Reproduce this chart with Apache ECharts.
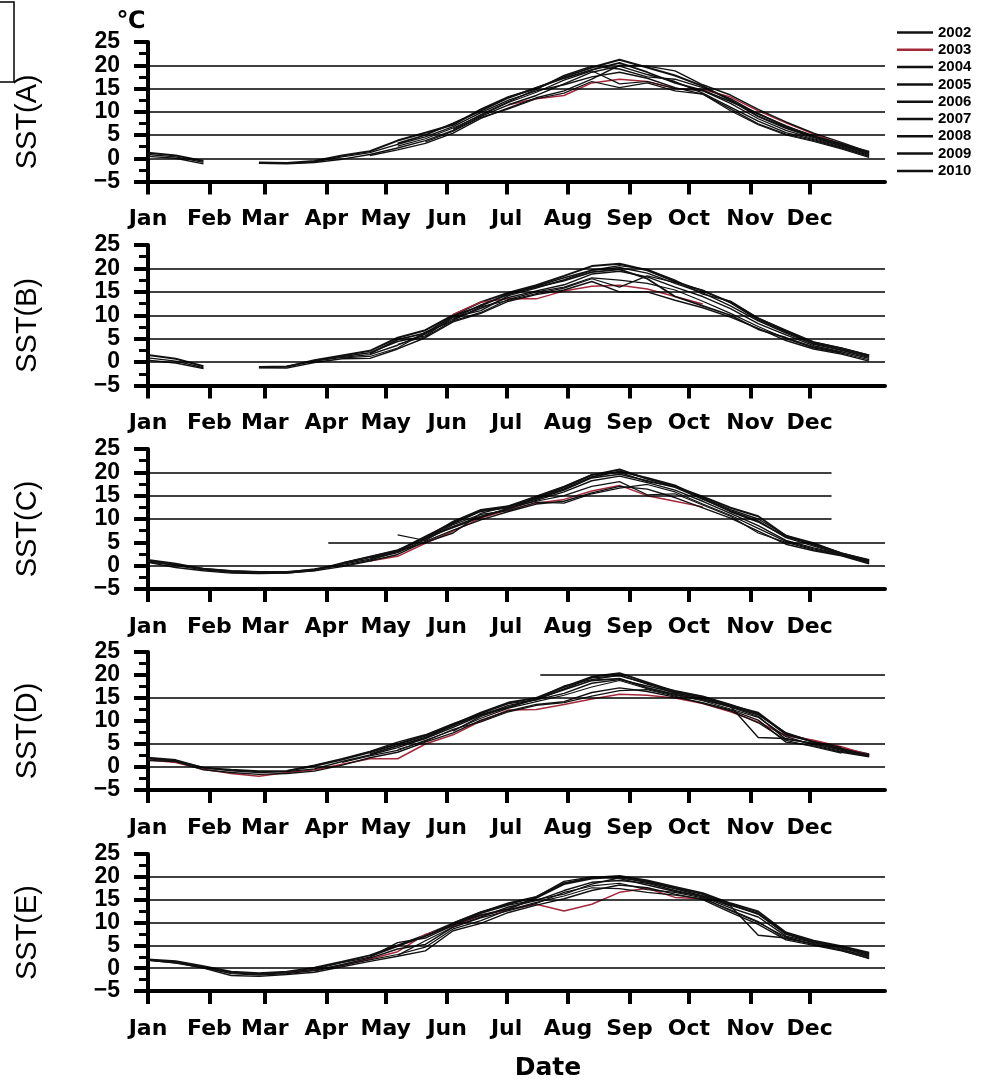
<!DOCTYPE html>
<html><head><meta charset="utf-8">
<script src="https://cdn.jsdelivr.net/npm/echarts@6/dist/echarts.min.js"></script>
<style>html,body{margin:0;padding:0;background:#fff}#c{width:985px;height:1084px}</style>
</head><body><div id="c"></div>
<script>
// ---------- data ----------
const years = ['2002','2003','2004','2005','2006','2007','2008','2009','2010'];
const days = [0,14,28,42,56,70,84,98,112,126,140,154,168,182,196,210,224,238,252,266,280,294,308,322,336,350,364];
const monthNames = ['Jan','Feb','Mar','Apr','May','Jun','Jul','Aug','Sep','Oct','Nov','Dec'];
const monthStarts = [0,31,59,90,120,151,181,212,243,273,304,334];
const panelNames = ['SST(A)','SST(B)','SST(C)','SST(D)','SST(E)'];
const xTitle = 'Date';
const unitLabel = '℃';

// gridlines per panel: [fromDay, toDay, level]
const gridA = [[0,372,0],[0,372,5],[0,372,10],[0,372,15],[0,372,20]];
const gridB = [[0,372,0],[0,372,5],[0,372,10],[0,372,15],[0,372,20]];
const gridC = [[0,372,0],[91,372,5],[0,345,10],[0,345,15],[0,345,20]];
const gridD = [[0,372,0],[0,372,5],[0,372,15],[198,372,20]];
const gridE = [[0,372,0],[0,372,5],[0,372,10],[0,372,15],[0,372,20]];

const A_2002 = [1.2,0.6,-0.6,null,-0.9,-1.0,-0.6,0.6,1.5,3.8,5.5,7.2,10.5,13.2,15.0,17.5,19.5,21.2,19.5,17.8,15.5,12.5,9.0,6.5,4.5,2.8,1.0];
const A_2003 = [null,null,null,null,null,null,null,null,null,null,null,null,null,11.5,12.8,13.5,16.2,17.0,16.5,15.0,14.8,13.2,10.2,7.6,5.2,3.0,null];
const A_2004 = [0.4,0.0,-1.2,null,-1.1,-1.2,-0.9,-0.2,0.8,2.2,3.8,6.0,9.0,11.5,13.5,16.0,18.5,19.8,18.0,16.5,14.0,11.0,8.0,5.5,4.0,2.4,0.6];
const A_2005 = [0.8,0.3,-0.9,null,-1.0,-1.1,-0.8,0.3,1.2,3.0,4.6,6.8,9.8,12.5,14.5,15.8,17.5,18.5,17.2,15.2,13.8,10.6,7.4,5.2,3.8,2.2,0.4];
const A_2006 = [null,null,null,null,null,null,null,null,0.6,1.8,3.2,5.4,8.6,10.8,13.0,14.5,17.0,20.0,19.8,18.8,15.8,13.6,10.5,7.8,5.4,3.4,1.3];
const A_2007 = [null,null,null,null,null,null,null,null,null,2.6,4.2,6.5,9.2,12.0,14.2,16.8,18.8,16.0,16.5,15.0,14.5,11.8,8.5,6.0,4.2,2.6,0.8];
const A_2008 = [null,null,null,null,null,null,null,null,null,3.2,5.0,7.5,10.2,13.0,15.2,17.2,19.0,20.5,18.5,16.2,14.6,12.2,9.6,6.8,4.8,3.0,1.4];
const A_2009 = [null,null,null,null,null,null,null,null,null,null,3.5,5.8,8.8,10.6,12.8,14.0,16.5,15.2,16.2,14.5,13.8,10.2,7.2,5.0,3.6,2.0,0.2];
const A_2010 = [null,null,null,null,null,null,null,null,null,null,null,6.2,9.4,12.2,14.8,17.8,19.8,19.2,17.5,17.0,15.2,12.8,9.5,7.0,4.6,3.2,1.2];

const B_2002 = [1.5,0.7,-0.9,null,-1.1,-1.0,0.4,1.4,2.4,5.2,6.8,10.0,12.8,14.8,16.4,18.4,20.5,21.0,19.6,17.2,15.2,12.8,9.3,6.6,4.2,2.9,1.4];
const B_2003 = [null,null,null,null,null,null,null,null,null,null,null,10.2,12.8,13.6,13.5,15.2,16.2,16.4,15.6,14.0,12.4,null,null,null,null,null,null];
const B_2004 = [0.4,-0.2,-1.4,null,-1.2,-1.3,-0.1,0.7,0.8,2.8,5.2,8.6,10.4,13.0,14.4,15.4,17.2,15.0,15.0,13.2,11.6,9.6,7.2,4.6,2.8,1.7,0.2];
const B_2005 = [0.9,0.2,-1.2,null,-1.0,-0.9,0.2,1.0,1.6,3.6,6.0,9.2,11.5,13.8,15.2,16.5,18.8,19.4,18.2,16.0,14.0,11.4,8.2,5.8,3.5,2.2,0.8];
const B_2006 = [null,null,null,null,null,null,0.3,1.2,2.0,4.4,5.6,9.6,11.0,14.2,15.8,17.6,19.6,20.2,19.0,16.8,14.8,12.0,8.8,6.2,3.8,2.5,1.0];
const B_2007 = [null,null,null,null,null,null,null,0.9,1.2,3.0,6.4,8.8,10.6,13.4,15.0,16.0,18.0,17.5,16.8,15.4,13.0,10.4,7.6,5.0,3.0,1.9,0.5];
const B_2008 = [null,null,null,null,null,null,null,null,1.8,4.8,6.2,9.8,12.0,14.6,16.0,17.4,19.2,19.8,17.8,14.0,12.0,10.0,7.0,5.2,3.2,2.0,null];
const B_2009 = [null,null,null,null,null,null,null,null,null,3.8,5.4,8.9,11.8,13.2,14.6,15.8,17.8,16.0,18.4,17.0,15.4,12.6,9.0,6.4,4.0,2.6,1.2];
const B_2010 = [null,null,null,null,null,null,null,null,null,null,null,9.3,12.2,14.4,16.2,18.0,19.6,20.6,19.8,17.5,14.5,13.0,9.4,6.8,4.3,3.0,1.5];

const C_2002 = [1.2,0.4,-0.7,-1.2,-1.4,-1.5,-1.0,0.5,1.8,3.2,6.2,9.2,11.8,12.6,14.6,16.8,19.4,20.6,18.6,17.0,14.8,12.4,10.6,6.4,4.8,2.6,1.2];
const C_2003 = [null,null,null,null,null,null,null,null,1.0,2.0,4.8,7.4,10.2,12.0,13.4,14.2,16.0,17.2,15.0,13.8,12.6,null,null,null,null,null,null];
const C_2004 = [0.7,-0.4,-1.1,-1.6,-1.7,-1.6,-1.1,-0.2,1.0,2.4,5.2,7.6,9.8,11.6,13.2,13.8,15.6,17.0,16.4,14.6,12.4,10.2,7.4,4.6,3.2,2.1,0.4];
const C_2005 = [1.0,0.0,-0.9,-1.4,-1.5,-1.4,-0.7,0.3,1.4,2.8,5.6,8.4,10.6,12.2,14.0,15.8,18.2,19.2,17.8,16.2,13.8,11.2,8.6,5.4,3.8,2.4,0.8];
const C_2006 = [0.8,0.2,-0.6,-1.1,-1.3,-1.3,-0.8,0.0,1.2,3.0,5.0,7.0,11.2,12.8,14.2,16.2,18.8,19.6,18.2,16.8,14.2,11.8,9.6,6.0,4.2,2.5,1.0];
const C_2007 = [null,null,null,null,null,null,null,0.6,2.0,3.4,5.8,9.0,11.6,12.4,13.8,15.0,17.0,18.0,15.2,15.4,13.0,10.6,7.0,5.0,3.4,2.2,0.6];
const C_2008 = [null,null,null,null,null,null,null,null,1.6,3.1,6.0,8.2,10.4,12.2,14.4,16.4,19.0,20.2,18.8,17.2,14.4,11.6,9.4,6.2,4.6,2.7,1.1];
const C_2009 = [null,null,null,null,null,null,null,null,null,6.6,5.4,8.8,11.0,11.8,13.6,13.4,15.4,16.6,17.4,15.8,13.2,10.8,8.0,5.2,3.6,2.3,0.5];
const C_2010 = [null,null,null,null,null,null,null,null,null,null,6.0,9.5,12.0,12.8,14.9,17.0,19.5,20.0,18.0,17.0,14.6,12.0,10.0,6.5,4.4,2.6,null];

const D_2002 = [2.0,1.5,-0.2,-0.6,-0.9,-0.9,0.2,1.6,3.2,5.0,6.8,9.2,11.8,14.0,15.0,17.4,19.6,20.4,18.4,16.4,15.2,13.4,11.8,7.2,5.6,4.0,2.8];
const D_2003 = [1.6,1.0,-0.5,-1.4,-2.0,-1.2,-0.6,0.6,1.8,1.8,5.0,7.0,10.0,12.4,12.5,13.6,14.8,15.8,15.6,15.0,13.8,12.0,9.8,6.8,5.8,4.4,2.6];
const D_2004 = [1.4,1.2,-0.6,-1.2,-1.6,-1.4,-0.9,0.4,2.0,3.2,5.4,7.4,10.2,12.2,13.6,14.2,16.2,17.2,16.4,15.2,14.0,12.4,10.2,5.4,4.6,3.2,2.2];
const D_2005 = [1.8,1.3,-0.1,-0.8,-1.2,-1.0,-0.4,1.2,2.6,4.2,6.2,8.6,11.2,13.4,14.6,16.0,18.2,19.0,17.6,16.2,14.8,13.0,11.0,6.0,5.2,3.6,2.4];
const D_2006 = [null,null,null,null,null,-0.8,0.4,1.8,3.4,5.4,7.0,9.4,11.6,13.8,14.6,17.0,19.4,19.8,18.2,16.0,15.0,13.2,6.4,6.2,5.0,3.8,2.5];
const D_2007 = [null,null,null,null,null,null,null,1.0,2.4,3.6,5.8,8.0,10.6,12.8,14.2,15.6,17.4,18.8,17.0,15.6,14.4,12.6,10.8,6.6,4.8,3.4,2.3];
const D_2008 = [null,null,null,null,null,null,null,null,2.8,4.6,6.4,9.0,11.4,13.0,14.8,16.8,18.8,19.2,17.2,15.8,14.6,13.2,11.4,7.4,5.4,4.2,null];
const D_2009 = [null,null,null,null,null,null,null,null,null,3.8,5.6,8.2,9.8,12.0,13.4,14.0,15.4,16.6,16.8,15.4,13.8,12.2,9.6,5.8,4.4,3.0,null];
const D_2010 = [null,null,null,null,null,null,null,null,null,null,null,7.8,11.0,13.0,14.8,17.6,19.0,20.0,18.0,16.6,15.4,13.6,11.6,7.0,5.4,4.0,2.6];

const E_2002 = [1.9,1.5,0.4,-0.8,-1.1,-0.8,0.1,1.4,2.8,5.0,7.2,9.8,12.2,14.2,15.6,18.6,19.8,20.2,19.2,17.8,16.4,14.2,12.4,7.8,6.0,4.8,3.4];
const E_2003 = [null,null,null,null,null,-1.0,-0.4,0.6,2.0,3.6,7.4,9.2,11.6,12.8,14.0,12.5,14.0,16.6,17.5,15.5,15.2,null,null,null,null,null,null];
const E_2004 = [1.7,1.2,0.0,-1.6,-1.8,-1.4,-0.9,0.3,1.5,2.6,3.8,8.2,9.8,12.2,13.8,15.2,17.0,18.2,17.6,16.2,15.0,12.2,9.6,6.2,5.0,3.8,2.2];
const E_2005 = [1.8,1.4,0.2,-1.2,-1.5,-1.2,-0.5,0.8,2.2,4.2,5.2,9.0,11.2,13.4,14.8,17.0,18.8,19.2,18.6,17.0,15.6,13.2,11.2,7.0,5.6,4.4,2.8];
const E_2006 = [1.8,1.1,0.1,-1.0,-1.3,-1.0,-0.2,1.2,2.4,5.6,6.6,9.4,12.0,13.8,15.0,16.2,18.4,19.8,18.8,17.4,15.8,13.6,7.2,6.6,5.2,4.0,2.6];
const E_2007 = [null,null,null,null,null,null,-0.6,0.6,1.8,3.0,4.6,8.6,10.4,12.8,14.4,15.8,17.6,17.4,16.6,16.0,15.2,12.8,10.2,6.4,5.4,4.2,2.4];
const E_2008 = [null,null,null,null,null,null,null,null,2.6,4.8,7.0,9.6,11.6,13.0,15.4,18.4,19.6,20.0,19.0,17.6,16.2,13.8,12.0,7.6,5.8,4.6,3.2];
const E_2009 = [null,null,null,null,null,null,null,null,null,2.8,6.0,9.0,11.0,12.6,14.2,16.6,18.0,18.6,17.2,16.6,15.4,12.6,10.0,6.8,5.2,3.9,2.1];
const E_2010 = [null,null,null,null,null,null,null,null,null,null,null,9.9,12.3,14.0,15.6,19.0,20.0,19.6,18.2,16.8,15.8,14.0,11.8,7.4,5.6,4.6,3.0];

// ---------- layout / style ----------
const panelTops = [42, 245, 449, 652, 854];
const panelHeights = [139.5, 140.5, 140, 138, 137];
const yearColors = ['#111','#a3283a','#111','#111','#111','#111','#111','#111','#111'];
const yearWidths = [2.0, 1.5, 1.4, 1.4, 1.4, 1.2, 1.8, 1.2, 1.4];

const panels = [
  {grid: gridA, data: [A_2002,A_2003,A_2004,A_2005,A_2006,A_2007,A_2008,A_2009,A_2010]},
  {grid: gridB, data: [B_2002,B_2003,B_2004,B_2005,B_2006,B_2007,B_2008,B_2009,B_2010]},
  {grid: gridC, data: [C_2002,C_2003,C_2004,C_2005,C_2006,C_2007,C_2008,C_2009,C_2010]},
  {grid: gridD, data: [D_2002,D_2003,D_2004,D_2005,D_2006,D_2007,D_2008,D_2009,D_2010]},
  {grid: gridE, data: [E_2002,E_2003,E_2004,E_2005,E_2006,E_2007,E_2008,E_2009,E_2010]}
];

const grids = [], xAxes = [], yAxes = [], series = [], graphics = [];
panels.forEach((p, i) => {
  grids.push({left: 148, right: 100, top: panelTops[i], height: panelHeights[i]});
  xAxes.push({
    type: 'value', gridIndex: i, min: 0, max: 372,
    splitLine: {show: false},
    axisLine: {onZero: false, lineStyle: {color: '#000', width: 4}},
    axisTick: {show: true, customValues: monthStarts, length: 13, lineStyle: {color: '#000', width: 4}},
    axisLabel: {
      customValues: monthStarts,
      formatter: v => monthNames[monthStarts.indexOf(v)],
      margin: 27, color: '#000', fontFamily: 'DejaVu Sans', fontWeight: 'bold', fontSize: 22
    }
  });
  yAxes.push({
    type: 'value', gridIndex: i, min: -5, max: 25, interval: 5,
    splitLine: {show: false},
    axisLine: {show: true, lineStyle: {color: '#000', width: 4}},
    axisTick: {show: true, length: 14, lineStyle: {color: '#000', width: 4}},
    minorTick: {show: true, splitNumber: 2, length: 9, lineStyle: {color: '#000', width: 3}},
    axisLabel: {
      margin: 28, color: '#000', fontFamily: 'Liberation Sans', fontWeight: 'bold', fontSize: 23,
      formatter: v => String(v).replace('-', '\u2212')
    }
  });
  series.push({
    type: 'line', xAxisIndex: i, yAxisIndex: i, data: [], silent: true, z: 1,
    markLine: {
      silent: true, symbol: ['none', 'none'], label: {show: false}, animation: false,
      lineStyle: {color: '#000', width: 1.5, type: 'solid'},
      emphasis: {disabled: true},
      data: p.grid.map(g => [{coord: [g[0], g[2]]}, {coord: [g[1], g[2]]}])
    }
  });
  years.forEach((y, k) => {
    const vals = p.data[k];
    series.push({
      name: y, type: 'line', xAxisIndex: i, yAxisIndex: i, z: 3,
      symbol: 'none', showSymbol: false, connectNulls: false,
      lineStyle: {color: yearColors[k], width: yearWidths[k]},
      itemStyle: {color: yearColors[k]},
      data: days.map((d, j) => [d, vals[j] === null ? '-' : vals[j]])
    });
  });
  graphics.push({
    type: 'text', x: 28, y: panelTops[i] + panelHeights[i] / 2 + 10, rotation: Math.PI / 2,
    style: {text: panelNames[i], fill: '#000', font: '29px "Liberation Sans"', textAlign: 'center', textVerticalAlign: 'middle'}
  });
});

graphics.push({type: 'rect', shape: {x: -4, y: 2, width: 18, height: 80}, style: {fill: 'none', stroke: '#000', lineWidth: 1.5}});
graphics.push({type: 'text', x: 131, y: 22, style: {text: unitLabel, fill: '#000', font: 'bold 24px "DejaVu Sans"', textAlign: 'center', textVerticalAlign: 'middle'}});
graphics.push({type: 'text', x: 548, y: 1068, style: {text: xTitle, fill: '#000', font: 'bold 25px "DejaVu Sans"', textAlign: 'center', textVerticalAlign: 'middle'}});

const chart = echarts.init(document.getElementById('c'));
chart.setOption({
  animation: false,
  backgroundColor: '#fff',
  grid: grids, xAxis: xAxes, yAxis: yAxes, series: series,
  legend: {
    data: years.map(y => ({name: y, icon: 'rect'})),
    orient: 'vertical', left: 892, top: 20,
    itemWidth: 36, itemHeight: 2.5, itemGap: 2.3,
    textStyle: {fontFamily: 'Liberation Sans', fontWeight: 'bold', fontSize: 15, color: '#000', lineHeight: 15},
    selectedMode: false
  },
  graphic: graphics
});
</script></body></html>
